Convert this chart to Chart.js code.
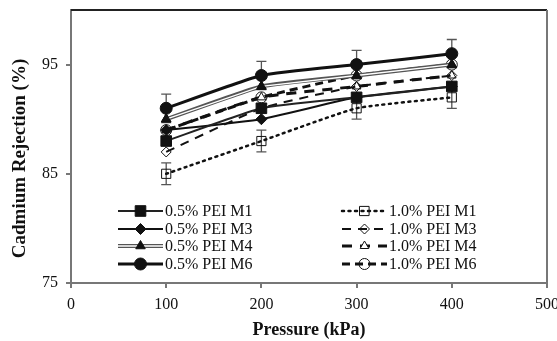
<!DOCTYPE html>
<html>
<head>
<meta charset="utf-8">
<script src="https://cdn.jsdelivr.net/npm/chart.js@4.4.0/dist/chart.umd.min.js"></script>
<style>
  html, body { margin: 0; padding: 0; background: #fff; }
</style>
</head>
<body>
<canvas id="rejectionChart" width="557" height="341"></canvas>
<script>
// Data (Cd rejection vs. pressure)
const pressures = [100, 200, 300, 400];
const yTicks = [75, 85, 95];

const rej05M1 = [88, 91, 92, 93];
const rej05M3 = [89, 90, 92, 93];
const rej05M4 = [90, 93, 94, 95];
const rej05M6 = [91, 94, 95, 96];
const rej10M1 = [85, 88, 91, 92];
const rej10M3 = [87, 91, 93, 94];
const rej10M4 = [89, 92, 93, 94];
const rej10M6 = [89, 92, 94, 95];

const err05M6 = [1.3, 1.3, 1.3, 1.3];
const err10M1 = [1, 1, 1, 1];

const seriesLabels = ['0.5% PEI M1', '0.5% PEI M3', '0.5% PEI M4', '0.5% PEI M6',
                      '1.0% PEI M1', '1.0% PEI M3', '1.0% PEI M4', '1.0% PEI M6'];
const yTitle = 'Cadmium Rejection (%)';
const xTitle = 'Pressure (kPa)';

const SERIF = '"Liberation Serif", "DejaVu Serif", serif';

function pts(vals) {
    return vals.map((v, i) => ({ x: pressures[i], y: v }));
}

function makeSet(label, vals, style) {
    return Object.assign({
        label: label,
        data: pts(vals),
        borderColor: '#111',
        borderWidth: 2,
        borderDash: [],
        pointStyle: 'circle',
        pointRadius: 5.5,
        pointBorderWidth: 1,
        pointBackgroundColor: '#111',
        pointBorderColor: '#111',
        tension: 0.15,
        fill: false
    }, style);
}

const datasets = [
    makeSet(seriesLabels[0], rej05M1, { pointStyle: 'rect', pointRadius: 7.5, borderColor: '#222' }),
    makeSet(seriesLabels[1], rej05M3, { pointStyle: 'rectRot', pointRadius: 5.5 }),
    makeSet(seriesLabels[2], rej05M4, { pointStyle: 'triangle', pointRadius: 5.5, borderColor: '#555', borderWidth: 4, doubleLine: true }),
    makeSet(seriesLabels[3], rej05M6, { pointStyle: 'circle', pointRadius: 6, borderWidth: 3, errors: err05M6 }),
    makeSet(seriesLabels[4], rej10M1, { pointStyle: 'rect', pointRadius: 6.5, borderWidth: 2.5, borderDash: [2, 4.5], borderCapStyle: 'round',
        pointBackgroundColor: 'rgba(255,255,255,0)', errors: err10M1 }),
    makeSet(seriesLabels[5], rej10M3, { pointStyle: 'rectRot', pointRadius: 5, borderWidth: 2, borderDash: [9, 7],
        pointBackgroundColor: 'rgba(255,255,255,0)' }),
    makeSet(seriesLabels[6], rej10M4, { pointStyle: 'triangle', pointRadius: 5, borderWidth: 3, borderDash: [10, 8],
        pointBackgroundColor: '#fff' }),
    makeSet(seriesLabels[7], rej10M6, { pointStyle: 'circle', pointRadius: 5.5, borderWidth: 3, borderDash: [8, 5],
        pointBackgroundColor: 'rgba(255,255,255,0)' })
];

// error bars under the markers
const errorBars = {
    id: 'errorBars',
    beforeDatasetsDraw(chart) {
        const ctx = chart.ctx;
        const ys = chart.scales.y;
        ctx.save();
        ctx.strokeStyle = '#555';
        ctx.lineWidth = 1.3;
        ctx.setLineDash([]);
        chart.data.datasets.forEach((ds, di) => {
            if (!ds.errors) return;
            const meta = chart.getDatasetMeta(di);
            meta.data.forEach((p, i) => {
                const v = ds.data[i].y;
                const top = ys.getPixelForValue(v + ds.errors[i]);
                const bot = ys.getPixelForValue(v - ds.errors[i]);
                ctx.beginPath();
                ctx.moveTo(p.x, top); ctx.lineTo(p.x, bot);
                ctx.moveTo(p.x - 5, top); ctx.lineTo(p.x + 5, top);
                ctx.moveTo(p.x - 5, bot); ctx.lineTo(p.x + 5, bot);
                ctx.stroke();
            });
        });
        ctx.restore();
    }
};

// white core for the double line series, then markers again on top
const doubleLine = {
    id: 'doubleLine',
    afterDatasetDraw(chart, args) {
        const ds = chart.data.datasets[args.index];
        if (!ds.doubleLine) return;
        const meta = args.meta;
        const ctx = chart.ctx;
        ctx.save();
        ctx.strokeStyle = '#fff';
        ctx.lineWidth = 1.3;
        ctx.beginPath();
        meta.data.forEach((p, i) => { if (i === 0) ctx.moveTo(p.x, p.y); else ctx.lineTo(p.x, p.y); });
        ctx.stroke();
        ctx.restore();
        meta.data.forEach(p => p.draw(ctx, chart.chartArea));
    }
};

function drawSample(ctx, ds, x0, x1, y) {
    const cx = (x0 + x1) / 2;
    ctx.save();
    ctx.strokeStyle = ds.borderColor;
    ctx.lineWidth = ds.borderWidth;
    ctx.lineCap = ds.borderCapStyle || 'butt';
    ctx.setLineDash(ds.borderDash);
    ctx.beginPath();
    ctx.moveTo(x0, y); ctx.lineTo(x1, y);
    ctx.stroke();
    if (ds.doubleLine) {
        ctx.strokeStyle = '#fff';
        ctx.lineWidth = 1.3;
        ctx.beginPath();
        ctx.moveTo(x0, y); ctx.lineTo(x1, y);
        ctx.stroke();
    }
    ctx.setLineDash([]);
    ctx.fillStyle = ds.pointBackgroundColor;
    ctx.strokeStyle = ds.pointBorderColor;
    ctx.lineWidth = ds.pointBorderWidth;
    Chart.helpers.drawPoint(ctx, { pointStyle: ds.pointStyle, radius: ds.pointRadius, rotation: 0, borderWidth: ds.pointBorderWidth }, cx, y);
    ctx.restore();
}

// frame, y title and in-plot legend (two columns)
const frameAndLegend = {
    id: 'frameAndLegend',
    afterDraw(chart) {
        const ctx = chart.ctx;
        const a = chart.chartArea;
        ctx.save();
        ctx.strokeStyle = '#222';
        ctx.lineWidth = 2;
        ctx.beginPath();
        ctx.moveTo(a.left, a.top); ctx.lineTo(a.right, a.top);
        ctx.stroke();
        ctx.strokeStyle = '#777';
        ctx.beginPath();
        ctx.moveTo(a.right, a.top); ctx.lineTo(a.right, a.bottom);
        ctx.stroke();

        // y title sits a bit below the axis centre in the original
        ctx.save();
        ctx.translate(a.left - 51, (a.top + a.bottom) / 2 + 12);
        ctx.rotate(-Math.PI / 2);
        ctx.font = 'bold 19px ' + SERIF;
        ctx.fillStyle = '#111';
        ctx.textAlign = 'center';
        ctx.textBaseline = 'middle';
        ctx.fillText(yTitle, 0, 0);
        ctx.restore();

        const colX = [a.left + 47, a.left + 271];
        const rowY = [a.bottom - 72, a.bottom - 54, a.bottom - 37, a.bottom - 19];
        ctx.font = '16px ' + SERIF;
        ctx.textBaseline = 'middle';
        chart.data.datasets.forEach((ds, i) => {
            const col = Math.floor(i / 4);
            const y = rowY[i % 4];
            const x0 = colX[col];
            drawSample(ctx, ds, x0, x0 + 45, y);
            ctx.fillStyle = '#111';
            ctx.fillText(ds.label, x0 + 47, y + 1);
        });
        ctx.restore();
    }
};

new Chart(document.getElementById('rejectionChart'), {
    type: 'line',
    data: { datasets: datasets },
    plugins: [errorBars, doubleLine, frameAndLegend],
    options: {
        responsive: false,
        devicePixelRatio: 1,
        animation: false,
        layout: { padding: { left: 0, right: 10, top: 10, bottom: 0 } },
        plugins: { legend: { display: false }, tooltip: { enabled: false } },
        scales: {
            x: {
                type: 'linear',
                min: 0, max: 500,
                ticks: { stepSize: 100, color: '#111', font: { family: SERIF, size: 16 }, padding: 7, maxRotation: 0 },
                grid: { drawOnChartArea: false, tickLength: 5, color: '#777', lineWidth: 2 },
                border: { color: '#777', width: 2 },
                title: { display: true, text: xTitle, color: '#111', font: { family: SERIF, size: 18, weight: 'bold' }, padding: { top: 7, bottom: 0 } },
                afterFit(scale) { scale.height = 58; scale.paddingLeft = 0; scale.paddingRight = 0; }
            },
            y: {
                min: 75, max: 100,
                afterBuildTicks(scale) { scale.ticks = yTicks.map(v => ({ value: v })); },
                ticks: { color: '#111', font: { family: SERIF, size: 16 }, padding: 8 },
                grid: { drawOnChartArea: false, tickLength: 5, color: '#777', lineWidth: 2 },
                border: { color: '#777', width: 2 },
                afterFit(scale) { scale.width = 71; scale.paddingTop = 0; scale.paddingBottom = 0; }
            }
        }
    }
});
</script>
</body>
</html>
